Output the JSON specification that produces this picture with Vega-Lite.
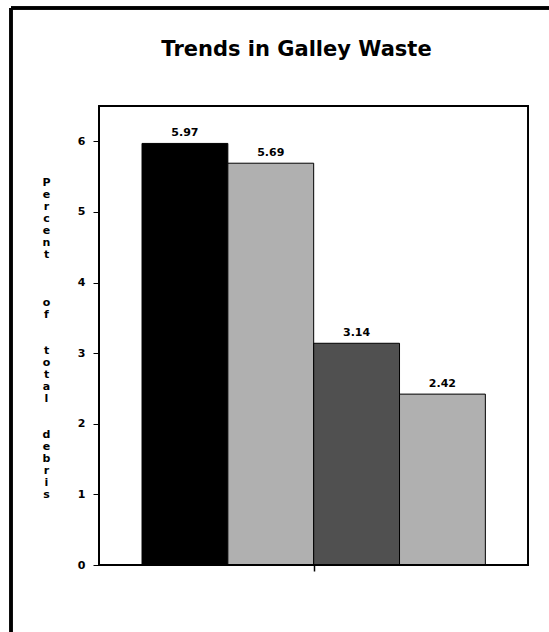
{
  "$schema": "https://vega.github.io/schema/vega-lite/v6.json",
  "autosize": {"type": "none"},
  "width": 515,
  "height": 624,
  "padding": {"left": 11, "top": 8, "right": 23, "bottom": 0},
  "background": "white",
  "config": {
    "view": {"stroke": null},
    "axis": {"labelFont": "DejaVu Sans", "labelFontWeight": "bold", "labelFontSize": 11, "labelColor": "black", "tickColor": "black", "domainColor": "black", "grid": false}
  },
  "title": {
    "text": "Trends in Galley Waste",
    "font": "DejaVu Sans",
    "fontWeight": "bold",
    "fontSize": 21,
    "color": "black",
    "anchor": "middle",
    "frame": "group",
    "baseline": "alphabetic",
    "offset": -70,
    "dx": 28
  },
  "data": {"values": [
    {"series": "A", "value": 5.97},
    {"series": "B", "value": 5.69},
    {"series": "C", "value": 3.14},
    {"series": "D", "value": 2.42}
  ]},
  "resolve": {"scale": {"x": "independent"}, "axis": {"x": "independent", "y": "independent"}},
  "layer": [
    {
      "encoding": {
        "x": {"field": "series", "type": "nominal", "axis": null,
              "scale": {"type": "band", "paddingInner": 0, "paddingOuter": 1, "align": 0.7632}},
        "y": {"field": "value", "type": "quantitative",
              "scale": {"domain": [-0.9488, 7.888], "nice": false, "zero": false},
              "axis": {
                "values": [0, 1, 2, 3, 4, 5, 6],
                "offset": -88,
                "domain": false,
                "tickSize": 6,
                "labelPadding": 8,
                "title": ["P","e","r","c","e","n","t","\u2800","\u2800","\u2800","o","f","\u2800","\u2800","t","o","t","a","l","\u2800","\u2800","d","e","b","r","i","s"],
                "titleAngle": 0,
                "titleAlign": "center",
                "titleBaseline": "top",
                "titleX": -53,
                "titleY": 168,
                "titleLineHeight": 12,
                "titleFont": "DejaVu Sans",
                "titleFontWeight": "bold",
                "titleFontSize": 11,
                "titleColor": "black"
              }}
      },
      "layer": [
        {
          "mark": {"type": "bar", "stroke": "black", "strokeWidth": 1},
          "encoding": {
            "y2": {"datum": 0},
            "color": {"field": "series", "type": "nominal", "legend": null,
                      "scale": {"domain": ["A","B","C","D"], "range": ["#000000", "#b0b0b0", "#505050", "#b0b0b0"]}}
          }
        },
        {
          "mark": {"type": "text", "baseline": "bottom", "dy": -5, "font": "DejaVu Sans", "fontWeight": "bold", "fontSize": 11, "color": "black"},
          "encoding": {"text": {"field": "value", "type": "quantitative", "format": ".2f"}}
        }
      ]
    },
    {
      "encoding": {
        "x": {"datum": 0, "type": "quantitative",
              "scale": {"domain": [-1.0253, 4.975], "nice": false, "zero": false},
              "axis": {"values": [2.5], "labels": false, "domain": false, "tickSize": 6, "tickWidth": 1.5, "offset": -67, "title": null}},
        "y": {"datum": 0, "type": "quantitative", "axis": null}
      },
      "layer": [
        {
          "mark": {"type": "rect", "fill": null, "fillOpacity": 0, "stroke": "black", "strokeWidth": 1.5},
          "encoding": {
            "x2": {"datum": 5},
            "y2": {"datum": 6.5}
          }
        },
        {
          "mark": {"type": "rule", "stroke": "black", "strokeWidth": 3},
          "encoding": {
            "x": {"datum": -1.0253, "type": "quantitative"},
            "y": {"datum": -0.9488, "type": "quantitative"},
            "y2": {"datum": 7.888}
          }
        },
        {
          "mark": {"type": "rule", "stroke": "black", "strokeWidth": 3},
          "encoding": {
            "x": {"datum": -1.0253, "type": "quantitative"},
            "x2": {"datum": 5.4},
            "y": {"datum": 7.888, "type": "quantitative"}
          }
        }
      ]
    }
  ]
}
